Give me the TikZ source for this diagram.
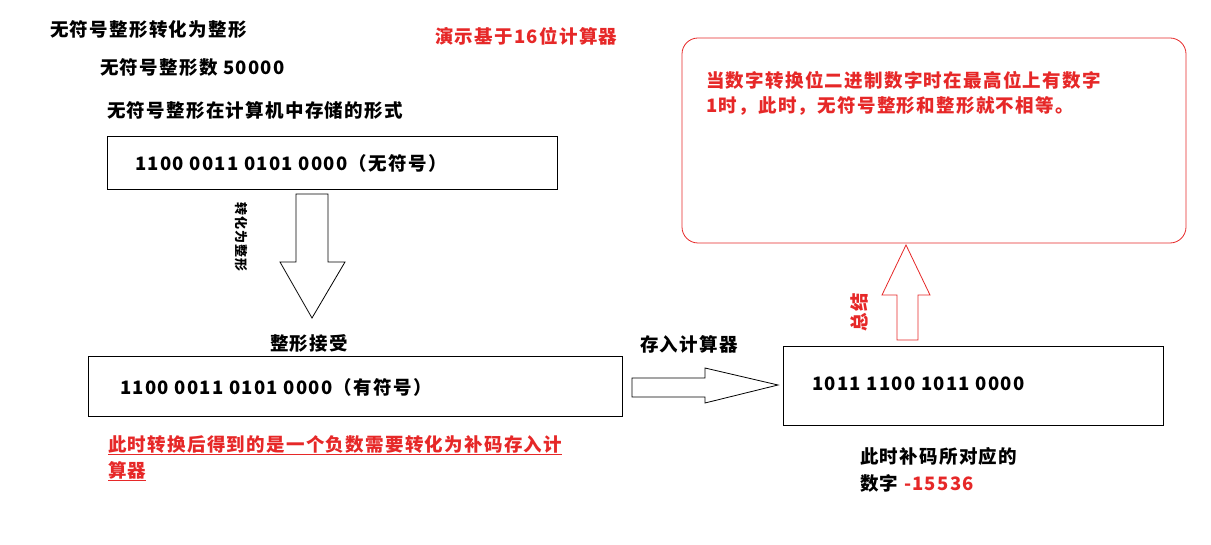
\documentclass[tikz,border=0pt]{standalone}
\usepackage{fontspec}
\setmainfont{Noto Sans CJK SC}[LetterSpace=7]
\definecolor{myred}{RGB}{230,40,40}
\begin{document}
\begin{tikzpicture}[x=1pt,y=-1pt,
  txt/.style={anchor=west,inner sep=0pt,font=\fontsize{18.5}{20}\selectfont\bfseries},
  rtxt/.style={txt,text=myred},
  boxx/.style={draw,line width=0.8pt},
  hollow/.style={draw,line width=0.8pt,fill=white}]
\useasboundingbox (0,0) rectangle (1211,545);
\node[txt] (t1) at (50,30) {无符号整形转化为整形};
\node[txt] (t2) at (100,68) {无符号整形数 50000};
\node[txt] (t3) at (107,110) {无符号整形在计算机中存储的形式};
\node[rtxt] (t4) at (435,36) {演示基于16位计算器};
\draw[boxx] (107,136) rectangle (557,189);
\node[txt] (b1) at (135,163) {1100 0011 0101 0000（无符号）};
\draw[hollow] (296,194) -- (328,194) -- (328,262) -- (345,262) -- (312,318) -- (280,262) -- (296,262) -- cycle;
\node[txt,font=\fontsize{13}{14}\selectfont\bfseries,rotate=-90,anchor=north] (v1) at (248,237) {转化为整形};
\node[txt] (t5) at (270,343) {整形接受};
\draw[boxx] (88,356) rectangle (622,416);
\node[txt] (b2) at (120,387) {1100 0011 0101 0000（有符号）};
\node[rtxt] (r1) at (108,445) {\underline{此时转换后得到的是一个负数需要转化为补码存入计}};
\node[rtxt] (r2) at (108,471) {\underline{算器}};
\draw[hollow] (632,378) -- (705,378) -- (705,368) -- (778,385) -- (705,403) -- (705,397) -- (632,397) -- cycle;
\node[txt] (t6) at (640,344) {存入计算器};
\draw[boxx] (783,346) rectangle (1163,425);
\node[txt] (b3) at (812,384) {1011 1100 1011 0000};
\node[txt] (t7) at (860,456) {此时补码所对应的};
\node[txt] (t8) at (860,483) {数字 \textcolor{myred}{-15536}};
\draw[hollow,draw=myred] (897,340) -- (918,340) -- (918,295) -- (930,295) -- (906,245) -- (882,295) -- (897,295) -- cycle;
\node[rtxt,rotate=90,anchor=south] (v2) at (868,312) {总结};
\draw[myred,line width=0.8pt,rounded corners=16pt] (682,38) rectangle (1186,243);
\node[rtxt] (s1) at (706,80) {当数字转换位二进制数字时在最高位上有数字};
\node[rtxt] (s2) at (706,106) {1时，此时，无符号整形和整形就不相等。};
\end{tikzpicture}
\end{document}
